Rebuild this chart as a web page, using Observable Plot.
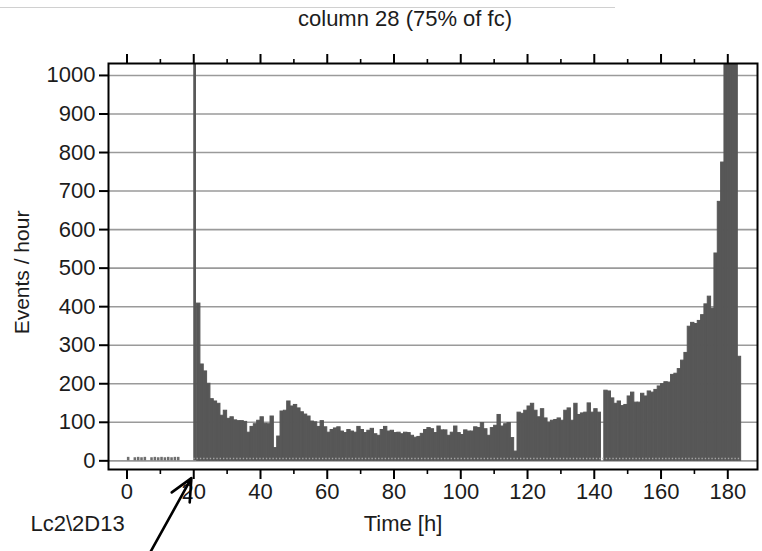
<!DOCTYPE html>
<html>
<head>
<meta charset="utf-8">
<script src="https://cdn.jsdelivr.net/npm/d3@7"></script>
<script src="https://cdn.jsdelivr.net/npm/@observablehq/plot@0.6"></script>
<style>
  html, body { margin: 0; padding: 0; background: #fff; }
  #wrap { position: relative; width: 762px; height: 551px; overflow: hidden; }
  #topline { position: absolute; left: 0; top: 7px; width: 615px; height: 0; border-top: 1px solid #d0d0d0; }
</style>
</head>
<body>
<div id="wrap"><div id="topline"></div></div>
<script>
// Hourly event counts, one value per 1-hour bin starting at firstHour
const firstHour = 21;
const eventsPerHour = [
  408, 250, 232, 200, 160, 154, 148, 117, 130, 109,   // 21-30
  113, 105, 103, 103, 101,  73,  88,  95, 104, 113,   // 31-40
   96,  95, 115,  33,  63, 128, 130, 154, 141, 145,   // 41-50
  136, 126, 120, 115, 102, 100,  88, 103,  87,  73,   // 51-60
   80,  84,  87,  76,  72,  80,  76,  73,  88,  80,   // 61-70
   72,  78,  83,  69,  65,  80,  88,  76,  78,  72,   // 71-80
   73,  69,  73,  72,  65,  60,  62,  70,  80,  85,   // 81-90
   82,  72,  89,  79,  79,  65,  73,  89,  72,  67,   // 91-100
   79,  76,  76,  87,  85,  98,  82,  65,  85,  91,   // 101-110
  119,  89,  95,  98,  59,  24, 125, 122, 130, 141,   // 111-120
  148, 130, 113, 134, 110,  99, 104, 106, 110, 104,   // 121-130
  130, 136, 104, 148, 119, 123, 125, 149, 125, 134,   // 131-140
  125,   0, 182, 180, 162, 148, 154, 142, 145, 167,   // 141-150
  177, 151, 151, 174, 167, 180, 177, 184, 193, 199,   // 151-160
  204, 203, 223, 226, 238, 260, 280, 348, 358, 355,   // 161-170
  363, 378, 406, 426, 395, 538, 672, 774, 1120, 1180, // 171-180
  1260, 1150, 270                                     // 181-183
];

// Burst bin at the start of the run (exceeds the plotted range)
const burstHour = 20;
const burstEvents = 1400;

// Sparse counts recorded before the run
const earlyHours  = [0, 2, 3, 4, 5, 7, 8, 9, 10, 11, 12, 13, 14, 15];
const earlyEvents = [9, 8, 9, 8, 9, 8, 9, 8, 9, 8, 9, 8, 9, 9];

// Axis ticks
const yTicks = d3.range(0, 1001, 100);
const xMajor = d3.range(0, 181, 20);
const xMinor = d3.range(10, 180, 20);

const titleText = "column 28 (75% of fc)";
const yLabel = "Events / hour";
const xLabel = "Time [h]";
const sampleId = "Lc2\\2D13";

// Annotation arrow pointing at the burst bin (data units)
const arrowNote = [{x1: 6.8, y1: -240, x2: 19.3, y2: -45}];

const bins = eventsPerHour.map((v, i) => ({start: firstHour + i, end: firstHour + i + 1, events: v}));
const early = earlyHours.map((h, i) => ({start: h, end: h + 1, events: earlyEvents[i]}));
const burst = [{start: burstHour, end: burstHour + 1, events: burstEvents}];
const lastEnd = bins[bins.length - 1].end;

const font = "'Liberation Sans', Arial, Helvetica, sans-serif";
const ink = "#1c1c1c";
const barFill = "#575757";

const chart = Plot.plot({
  width: 762,
  height: 551,
  marginLeft: 108,
  marginRight: 5,
  marginTop: 63,
  marginBottom: 82,
  style: {fontFamily: font, fontSize: "22px", color: ink, background: "transparent"},
  x: {domain: [-5.54, 188.9], axis: null},
  y: {domain: [-22.5, 1031], axis: null},
  marks: [
    Plot.gridY(yTicks, {stroke: "#9a9a9a", strokeOpacity: 1, strokeWidth: 1.6}),
    Plot.rectY(early, {x1: "start", x2: "end", y1: 0, y2: "events", fill: "#6e6e6e", insetLeft: 0.4, insetRight: 0.4}),
    Plot.rectY(bins, {x1: "start", x2: "end", y1: 0, y2: "events", fill: barFill, stroke: barFill, strokeWidth: 1, clip: true}),
    Plot.rectY(burst, {x1: "start", x2: "end", y1: 0, y2: "events", fill: "#585858", insetLeft: 0, insetRight: 0.6, clip: true}),
    Plot.ruleY([6], {x1: burstHour, x2: lastEnd, stroke: "#a5a5a5", strokeWidth: 1.4, strokeDasharray: "1.4 1.9"}),
    Plot.frame({stroke: "#000", strokeWidth: 2}),
    Plot.axisY(yTicks, {anchor: "left", tickSize: 9, tickPadding: 4, strokeWidth: 2, stroke: "#000", fontSize: 22, tickFormat: d3.format("d"), label: null}),
    Plot.axisX(xMajor, {anchor: "bottom", tickSize: 10, tickPadding: 4, strokeWidth: 2, stroke: "#000", fontSize: 22, tickFormat: d3.format("d"), label: null}),
    Plot.axisX(xMinor, {anchor: "bottom", tickSize: 5, strokeWidth: 1.6, stroke: "#000", tickFormat: () => "", label: null}),
    Plot.axisX(xMajor, {anchor: "top", tickSize: 10, strokeWidth: 2, stroke: "#000", tickFormat: () => "", label: null}),
    Plot.axisX(xMinor, {anchor: "top", tickSize: 5, strokeWidth: 1.6, stroke: "#000", tickFormat: () => "", label: null}),
    Plot.text([titleText], {frameAnchor: "top", lineAnchor: "middle", dx: -28, dy: -45, fontSize: 22, fill: ink}),
    Plot.text([yLabel], {frameAnchor: "left", lineAnchor: "middle", textAnchor: "middle", dx: -86, dy: 6, rotate: -90, fontSize: 21, fill: ink}),
    Plot.text([xLabel], {frameAnchor: "bottom", lineAnchor: "middle", dx: -30, dy: 54, fontSize: 22, fill: ink}),
    Plot.text([sampleId], {frameAnchor: "bottom-left", lineAnchor: "middle", dx: -78, dy: 54, textAnchor: "start", fontSize: 22, fill: ink}),
    Plot.arrow(arrowNote, {x1: "x1", y1: "y1", x2: "x2", y2: "y2", stroke: "#000", strokeWidth: 2.6, headLength: 14, headAngle: 50})
  ]
});
chart.style.position = "absolute";
chart.style.left = "0";
chart.style.top = "0";
document.getElementById("wrap").appendChild(chart);
</script>
</body>
</html>
